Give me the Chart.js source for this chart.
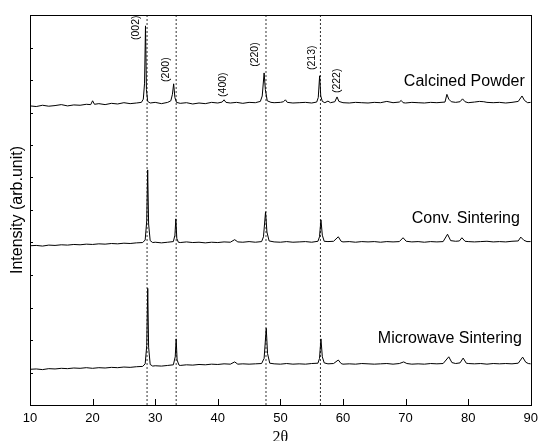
<!DOCTYPE html>
<html>
<head>
<meta charset="utf-8">
<script src="https://cdn.jsdelivr.net/npm/chart.js@4.4.1/dist/chart.umd.min.js"></script>
<style>
  html, body { margin: 0; padding: 0; background: #fff; }
</style>
</head>
<body>
<canvas id="xrd" width="544" height="441"></canvas>
<script>
// --- data: [2theta, intensity (arb.)] ---
const calcined = [
    [10, 9190], [11, 9170], [12, 9210], [13, 9180], [14, 9200], [15, 9230], [16, 9190],
    [17, 9220], [18, 9210], [19, 9240], [19.7, 9230], [20, 9350], [20.3, 9240], [21, 9260],
    [22, 9230], [23, 9270], [24, 9250], [25, 9290], [26, 9260], [27, 9280], [27.8, 9300],
    [28.1, 9400], [28.3, 9900], [28.45, 11690], [28.6, 9700], [28.8, 9330], [29.2, 9280],
    [30, 9300], [31, 9260], [32, 9300], [32.5, 9350], [32.75, 9550], [32.95, 9880],
    [33.15, 9450], [33.4, 9300], [34, 9270], [35, 9290], [36, 9250], [37, 9280], [38, 9260],
    [39, 9300], [40, 9280], [40.7, 9310], [41, 9380], [41.3, 9300], [42, 9280], [43, 9300],
    [44, 9270], [45, 9300], [46, 9290], [46.8, 9330], [47.1, 9500], [47.4, 10220],
    [47.6, 9700], [47.9, 9350], [48.5, 9300], [49, 9290], [50, 9300], [50.5, 9320],
    [50.8, 9380], [51.1, 9300], [52, 9280], [53, 9290], [54, 9300], [55, 9280], [55.8, 9310],
    [56.05, 9450], [56.27, 10130], [56.45, 9500], [56.7, 9330], [57.1, 9290], [57.6, 9340],
    [58, 9290], [58.7, 9320], [59.05, 9470], [59.35, 9330], [60, 9290], [61, 9280], [62, 9300],
    [63, 9290], [64, 9280], [65, 9300], [66, 9290], [67, 9330], [68, 9290], [69, 9310],
    [69.3, 9360], [69.6, 9290], [70, 9280], [71, 9300], [72, 9290], [73, 9280], [74, 9300],
    [75, 9290], [76.3, 9310], [76.6, 9550], [76.9, 9400], [77.3, 9320], [78, 9300],
    [78.7, 9320], [79.1, 9410], [79.5, 9320], [80, 9290], [81, 9310], [81.8, 9330],
    [82.5, 9320], [83, 9300], [84, 9290], [85, 9300], [86, 9280], [87, 9300], [88, 9330],
    [88.6, 9500], [89, 9360], [89.5, 9290], [90, 9300]
];
const convSintered = [
    [10, 4820], [11, 4830], [12, 4810], [13, 4840], [14, 4830], [15, 4850], [16, 4840],
    [17, 4860], [18, 4850], [19, 4870], [20, 4860], [21, 4880], [22, 4870], [23, 4890],
    [24, 4880], [25, 4900], [26, 4890], [27, 4910], [28, 4920], [28.4, 5000], [28.65, 5600],
    [28.8, 7190], [28.95, 5500], [29.2, 4980], [29.6, 4920], [30, 4930], [31, 4910], [32, 4930],
    [32.9, 4950], [33.15, 5150], [33.3, 5660], [33.45, 5050], [33.7, 4930], [34, 4920],
    [35, 4940], [36, 4920], [37, 4930], [38, 4910], [39, 4930], [40, 4920], [41, 4940],
    [42, 4930], [42.7, 5010], [43.2, 4940], [44, 4930], [45, 4950], [46, 4930], [47, 4950],
    [47.3, 5100], [47.63, 5880], [47.85, 5250], [48.2, 4970], [49, 4940], [50, 4930],
    [51, 4950], [52, 4930], [53, 4940], [54, 4950], [55, 4930], [56, 4960], [56.25, 5100],
    [56.48, 5630], [56.7, 5150], [57, 4960], [57.6, 4950], [58.5, 4960], [59.25, 5100],
    [59.7, 4960], [60, 4940], [61, 4950], [62, 4930], [63, 4950], [64, 4940], [65, 4950],
    [66, 4930], [67, 4950], [68, 4940], [69, 4950], [69.6, 5070], [70.1, 4960], [71, 4940],
    [72, 4950], [73, 4930], [74, 4950], [75, 4940], [76, 4950], [76.7, 5180], [77.2, 4980],
    [78, 4960], [78.6, 4970], [79, 5070], [79.5, 4960], [80, 4950], [81, 4940], [82, 4950],
    [83, 4960], [84, 4940], [85, 4950], [86, 4940], [87, 4960], [88, 4970], [88.4, 5090],
    [88.9, 4990], [89.4, 4950], [90, 4950]
];
const microwaveSintered = [
    [10, 960], [11, 970], [12, 950], [13, 980], [14, 970], [15, 990], [16, 980], [17, 1000],
    [18, 990], [19, 1010], [20, 990], [21, 1010], [22, 1000], [23, 1020], [24, 1010],
    [25, 1030], [26, 1020], [27, 1040], [28, 1050], [28.4, 1130], [28.65, 1700], [28.81, 3490],
    [28.95, 1650], [29.2, 1110], [29.6, 1060], [30, 1070], [31, 1060], [32, 1080], [32.9, 1100],
    [33.2, 1350], [33.35, 1910], [33.5, 1250], [33.8, 1090], [34, 1080], [35, 1100], [36, 1090],
    [37, 1110], [38, 1100], [39, 1120], [40, 1110], [41, 1130], [42, 1120], [42.7, 1190],
    [43.2, 1120], [44, 1130], [45, 1120], [46, 1130], [47, 1140], [47.4, 1300], [47.74, 2240],
    [47.95, 1450], [48.3, 1150], [49, 1130], [50, 1120], [51, 1140], [52, 1120], [53, 1130],
    [54, 1120], [55, 1140], [56, 1150], [56.25, 1300], [56.48, 1910], [56.7, 1350], [57, 1160],
    [57.6, 1130], [58.5, 1140], [59.25, 1250], [59.7, 1140], [60, 1120], [61, 1130], [62, 1120],
    [63, 1140], [64, 1130], [65, 1120], [66, 1130], [67, 1140], [68, 1120], [69, 1140],
    [69.7, 1190], [70.2, 1140], [71, 1120], [72, 1130], [73, 1120], [74, 1140], [75, 1130],
    [76, 1140], [76.9, 1350], [77.4, 1170], [78, 1140], [78.7, 1160], [79.2, 1310], [79.7, 1150],
    [80, 1140], [81, 1130], [82, 1140], [83, 1120], [84, 1140], [85, 1130], [86, 1140],
    [87, 1130], [88, 1150], [88.7, 1340], [89.2, 1180], [89.6, 1140], [90, 1130]
];
const sampleNames = ['Calcined Powder', 'Conv. Sintering', 'Microwave Sintering'];
const refAngles = [28.7, 33.35, 47.7, 56.4];
const hklLabels = ['(002)', '(200)', '(400)', '(220)', '(213)', '(222)'];
const xTickStep = 10;

// axis limits
const X_MIN = 10, X_MAX = 90;
const Y_MIN = -156, Y_MAX = 12030;

// where the texts sit, in data coords
const hklPos = [[26.9, 11250], [31.7, 9940], [40.8, 9470], [46.0, 10410], [55.1, 10310], [59.0, 9590]];
const namePos = [[89.05, 9810], [88.26, 5530], [88.58, 1780]];

const toXY = arr => arr.map(p => ({ x: p[0], y: p[1] }));

const traceStyle = { borderColor: '#000', borderWidth: 1, pointRadius: 0, tension: 0, fill: false };

const datasets = [
    Object.assign({ label: sampleNames[0], data: toXY(calcined) }, traceStyle),
    Object.assign({ label: sampleNames[1], data: toXY(convSintered) }, traceStyle),
    Object.assign({ label: sampleNames[2], data: toXY(microwaveSintered) }, traceStyle)
];
refAngles.forEach(a => {
    datasets.push({
        label: 'ref ' + a,
        data: [{ x: a, y: Y_MIN }, { x: a, y: Y_MAX }],
        borderColor: '#333', borderWidth: 1, borderDash: [2, 2], pointRadius: 0
    });
});

// --- frame, inward ticks, peak and sample labels ---
const decor = {
    id: 'decor',
    afterDatasetsDraw(chart) {
        const { ctx, chartArea: a, scales: { x, y } } = chart;
        ctx.save();
        ctx.strokeStyle = '#000';
        ctx.lineWidth = 1;
        ctx.strokeRect(Math.round(a.left) + 0.5, Math.round(a.top) + 0.5,
            Math.round(a.right - a.left), Math.round(a.bottom - a.top));
        ctx.beginPath();
        x.ticks.forEach(t => {
            if (t.value <= X_MIN || t.value >= X_MAX) return;
            const px = Math.round(x.getPixelForValue(t.value)) + 0.5;
            ctx.moveTo(px, a.bottom);
            ctx.lineTo(px, a.bottom - 6);
        });
        y.ticks.forEach(t => {
            if (t.value <= 0 || t.value >= 12000) return;
            const py = Math.round(y.getPixelForValue(t.value)) + 0.5;
            ctx.moveTo(a.left, py);
            ctx.lineTo(a.left + 3, py);
        });
        ctx.stroke();

        ctx.fillStyle = '#000';
        ctx.font = '10.5px "Liberation Sans", Arial, sans-serif';
        ctx.textAlign = 'left';
        ctx.textBaseline = 'middle';
        hklLabels.forEach((lab, i) => {
            ctx.save();
            ctx.translate(x.getPixelForValue(hklPos[i][0]), y.getPixelForValue(hklPos[i][1]));
            ctx.rotate(-Math.PI / 2);
            ctx.fillText(lab, 0, 0);
            ctx.restore();
        });

        ctx.font = '16px "Liberation Sans", Arial, sans-serif';
        ctx.textAlign = 'right';
        ctx.textBaseline = 'alphabetic';
        sampleNames.forEach((n, i) => {
            ctx.fillText(n, x.getPixelForValue(namePos[i][0]), y.getPixelForValue(namePos[i][1]));
        });
        ctx.restore();
    }
};

new Chart(document.getElementById('xrd').getContext('2d'), {
    type: 'line',
    data: { datasets: datasets },
    options: {
        responsive: false,
        animation: false,
        layout: { padding: { top: 15, right: 8, left: 0, bottom: 0 } },
        plugins: { legend: { display: false }, tooltip: { enabled: false } },
        scales: {
            x: {
                type: 'linear',
                min: X_MIN, max: X_MAX,
                grid: { display: false, drawTicks: false },
                border: { display: false },
                ticks: {
                    stepSize: xTickStep, padding: 6, color: '#000',
                    font: { family: '"Liberation Sans", Arial, sans-serif', size: 13 }
                },
                title: {
                    display: true, text: '2θ', color: '#000', padding: 0,
                    font: { family: '"Liberation Serif", "Times New Roman", serif', size: 16, lineHeight: 0.4 }
                },
                afterFit(scale) { scale.height = 36; }
            },
            y: {
                type: 'linear',
                min: Y_MIN, max: Y_MAX,
                grid: { display: false, drawTicks: false },
                border: { display: false },
                ticks: { display: false, stepSize: 1000 },
                title: {
                    display: true, text: 'Intensity (arb.unit)', color: '#000',
                    padding: { top: 8, bottom: 0 },
                    font: { family: '"Liberation Sans", Arial, sans-serif', size: 16 }
                },
                afterFit(scale) { scale.width = 30; }
            }
        }
    },
    plugins: [decor]
});
</script>
</body>
</html>
